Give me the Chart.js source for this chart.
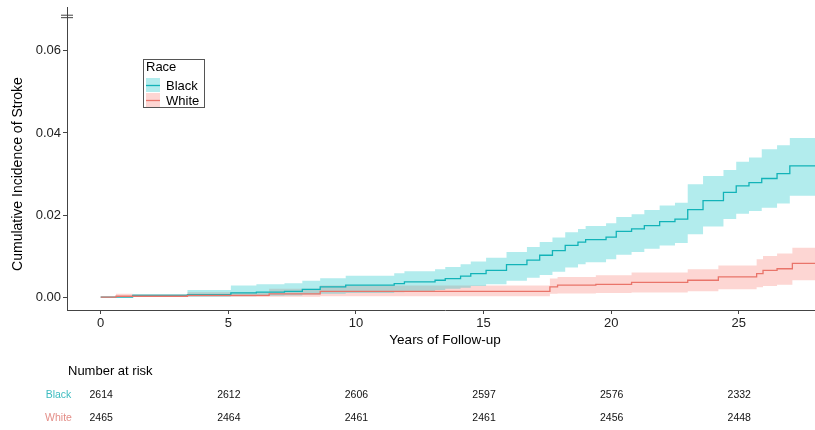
<!DOCTYPE html>
<html>
<head>
<meta charset="utf-8">
<script src="https://cdn.jsdelivr.net/npm/chart.js@4/dist/chart.umd.min.js"></script>
<style>
  html, body { margin: 0; padding: 0; background: #fff; overflow: hidden; }
  #wrap { position: relative; width: 830px; height: 430px; }
</style>
</head>
<body>
<div id="wrap"><canvas id="c" width="830" height="430"></canvas></div>
<script>
// Cumulative incidence of stroke by race (step estimates with 95% bands)
const blackTime = [0, 1.25, 3.4, 5.1, 6.1, 7.2, 7.9, 8.6, 9.6, 11.5, 11.9, 13.1, 13.5, 14.1, 14.5, 15.1, 15.9, 16.7, 17.2, 17.7, 18.2, 18.7, 19.0, 19.8, 20.2, 20.8, 21.3, 21.9, 22.5, 23.0, 23.6, 24.4, 24.9, 25.4, 25.9, 26.5, 27.0, 28.3];
const blackEst  = [0, 0.0004, 0.0006, 0.0010, 0.0012, 0.0014, 0.0019, 0.0025, 0.0029, 0.0033, 0.0037, 0.0041, 0.0045, 0.0051, 0.0057, 0.0065, 0.0079, 0.0090, 0.0102, 0.0113, 0.0126, 0.0134, 0.0140, 0.0146, 0.0160, 0.0166, 0.0174, 0.0184, 0.0190, 0.0213, 0.0235, 0.0255, 0.0271, 0.0279, 0.0289, 0.0301, 0.0320, 0.0320];
const blackLow  = [0, 0, 0.0001, 0.0002, 0.0003, 0.0004, 0.0006, 0.0008, 0.0010, 0.0012, 0.0014, 0.0017, 0.0020, 0.0023, 0.0027, 0.0031, 0.0040, 0.0047, 0.0054, 0.0062, 0.0072, 0.0080, 0.0085, 0.0092, 0.0103, 0.0110, 0.0118, 0.0126, 0.0132, 0.0153, 0.0172, 0.0190, 0.0203, 0.0210, 0.0218, 0.0228, 0.0247, 0.0247];
const blackHigh = [0.0001, 0.0007, 0.0017, 0.0028, 0.0031, 0.0034, 0.0040, 0.0046, 0.0052, 0.0058, 0.0063, 0.0068, 0.0073, 0.0080, 0.0087, 0.0096, 0.0110, 0.0122, 0.0134, 0.0145, 0.0158, 0.0166, 0.0173, 0.0180, 0.0195, 0.0202, 0.0212, 0.0223, 0.0230, 0.0275, 0.0295, 0.0310, 0.0330, 0.0340, 0.0360, 0.0370, 0.0388, 0.0388];

const whiteTime = [0, 0.6, 1.25, 3.4, 6.6, 8.6, 17.6, 17.9, 19.4, 20.8, 23.0, 24.2, 25.7, 25.95, 26.5, 27.1, 28.3];
const whiteEst  = [0, 0.0002, 0.0002, 0.0004, 0.0008, 0.0014, 0.0025, 0.0029, 0.0031, 0.0036, 0.0041, 0.0049, 0.0057, 0.0065, 0.0069, 0.0082, 0.0082];
const whiteLow  = [0, 0, 0, 0, 0.0001, 0.0002, 0.0008, 0.0009, 0.0010, 0.0011, 0.0014, 0.0019, 0.0024, 0.0027, 0.0030, 0.0041, 0.0041];
const whiteHigh = [0, 0.0008, 0.0007, 0.0012, 0.0020, 0.0028, 0.0045, 0.0049, 0.0053, 0.0060, 0.0068, 0.0077, 0.0092, 0.0100, 0.0106, 0.0120, 0.0120];

// Number-at-risk table
const riskTimes = [0, 5, 10, 15, 20, 25];
const riskBlack = [2614, 2612, 2606, 2597, 2576, 2332];
const riskWhite = [2465, 2464, 2461, 2461, 2456, 2448];

// Axis ticks
const xTicks = [0, 5, 10, 15, 20, 25];
const yTicks = [0, 0.02, 0.04, 0.06];

// Small double dash at the top of the y axis
const topMarkY = [0.0687, 0.0681];

const groups = [
  { label: 'Black', line: '#12b3b8', band: 'rgba(0,191,196,0.30)', text: '#3dbcc0', t: blackTime, est: blackEst, lo: blackLow, hi: blackHigh, risk: riskBlack },
  { label: 'White', line: '#e9746a', band: 'rgba(248,118,109,0.30)', text: '#e48e88', t: whiteTime, est: whiteEst, lo: whiteLow, hi: whiteHigh, risk: riskWhite }
];

const pts = (xs, ys) => xs.map((x, i) => ({ x: x, y: ys[i] }));

const datasets = [];
groups.forEach((g, gi) => {
  datasets.push({
    label: g.label + ' upper', data: pts(g.t, g.hi), stepped: 'before',
    borderWidth: 0, pointRadius: 0, backgroundColor: g.band, fill: '+1', order: 10 + gi
  });
  datasets.push({
    label: g.label + ' lower', data: pts(g.t, g.lo), stepped: 'before',
    borderWidth: 0, pointRadius: 0, fill: false, order: 10 + gi
  });
});
groups.forEach((g, gi) => {
  datasets.push({
    label: g.label, data: pts(g.t, g.est), stepped: 'before',
    borderColor: g.line, borderWidth: 1.3, pointRadius: 0, fill: false, order: 2 - gi
  });
});
const X_MIN = -1.32, X_MAX = 28.3, Y_MIN = -0.00315, Y_MAX = 0.0707;
datasets.push({
  label: 'top mark', data: topMarkY.map(y => ({ x: X_MIN, y: y })), showLine: false,
  pointStyle: 'line', pointRadius: 6, pointBorderColor: '#444', pointBorderWidth: 1, order: 0, clip: false
});

const FONT = '"Liberation Sans", Arial, sans-serif';

// Legend box drawn inside the panel, plus the rotated y-axis title
const raceLegend = {
  id: 'raceLegend',
  afterDraw(chart) {
    const ctx = chart.ctx;
    ctx.save();
    ctx.strokeStyle = '#555';
    ctx.lineWidth = 1;
    ctx.fillStyle = '#fff';
    ctx.fillRect(143.5, 59.5, 61, 48);
    ctx.strokeRect(143.5, 59.5, 61, 48);
    ctx.font = '13px ' + FONT;
    ctx.fillStyle = '#000';
    ctx.textBaseline = 'middle';
    ctx.textAlign = 'left';
    ctx.fillText('Race', 146, 67);
    groups.forEach((g, i) => {
      const cy = 85 + i * 15;
      ctx.fillStyle = g.band;
      ctx.fillRect(146, cy - 7, 14, 14);
      ctx.strokeStyle = g.line;
      ctx.lineWidth = 1.3;
      ctx.beginPath();
      ctx.moveTo(146, cy + 0.5);
      ctx.lineTo(160, cy + 0.5);
      ctx.stroke();
      ctx.fillStyle = '#000';
      ctx.fillText(g.label, 166, cy + 1);
    });

    ctx.translate(18, 174);
    ctx.rotate(-Math.PI / 2);
    ctx.textAlign = 'center';
    ctx.font = '14px ' + FONT;
    ctx.fillStyle = '#000';
    ctx.fillText('Cumulative Incidence of Stroke', 0, 0);
    ctx.restore();
  }
};

// Number-at-risk table aligned with the x scale
const riskTable = {
  id: 'riskTable',
  afterDraw(chart) {
    const ctx = chart.ctx;
    const xs = chart.scales.x;
    ctx.save();
    ctx.textBaseline = 'middle';
    ctx.font = '13px ' + FONT;
    ctx.fillStyle = '#000';
    ctx.textAlign = 'left';
    ctx.fillText('Number at risk', 68, 371);
    ctx.font = '10.5px ' + FONT;
    groups.forEach((g, i) => {
      const y = 395.5 + i * 23;
      ctx.fillStyle = g.text;
      ctx.textAlign = 'center';
      ctx.fillText(g.label, 58.5, y);
      ctx.fillStyle = '#111';
      riskTimes.forEach((t, k) => {
        ctx.fillText(String(g.risk[k]), xs.getPixelForValue(t) + 0.5, y);
      });
    });
    ctx.restore();
  }
};

new Chart(document.getElementById('c'), {
  type: 'line',
  data: { datasets: datasets },
  options: {
    responsive: false,
    animation: false,
    devicePixelRatio: 1,
    layout: { padding: { left: 0, top: 5, right: 0, bottom: 80 } },
    plugins: { legend: { display: false }, tooltip: { enabled: false } },
    scales: {
      x: {
        type: 'linear', min: X_MIN, max: X_MAX,
        afterBuildTicks: s => { s.ticks = xTicks.map(v => ({ value: v })); },
        afterFit: s => { s.height = 40; s.paddingLeft = 0; s.paddingRight = 0; },
        grid: { drawOnChartArea: false, drawTicks: true, tickLength: 4, color: '#444' },
        border: { display: true, color: '#444', width: 1 },
        ticks: { color: '#222', font: { family: FONT, size: 13 }, padding: 2, maxRotation: 0 },
        title: { display: true, text: 'Years of Follow-up', color: '#000', font: { family: FONT, size: 13.5 }, padding: { top: 0, bottom: 2 } }
      },
      y: {
        type: 'linear', min: Y_MIN, max: Y_MAX,
        afterBuildTicks: s => { s.ticks = yTicks.map(v => ({ value: v })); },
        afterFit: s => { s.width = 67; s.paddingTop = 0; s.paddingBottom = 0; },
        grid: { drawOnChartArea: false, drawTicks: true, tickLength: 4, color: '#444' },
        border: { display: true, color: '#444', width: 1 },
        ticks: { color: '#222', font: { family: FONT, size: 13 }, padding: 2, callback: v => v.toFixed(2) },
        title: { display: false }
      }
    }
  },
  plugins: [raceLegend, riskTable]
});
</script>
</body>
</html>
